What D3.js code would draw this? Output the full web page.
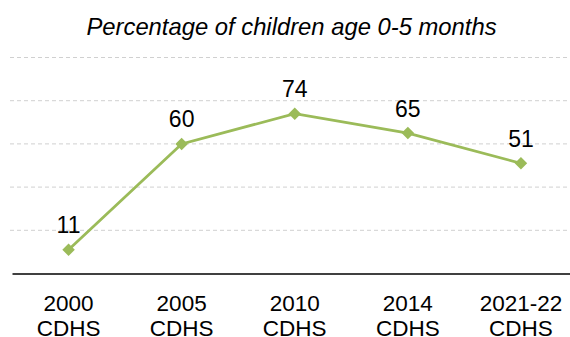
<!DOCTYPE html>
<html>
<head>
<meta charset="utf-8">
<script src="https://cdn.jsdelivr.net/npm/d3@7"></script>
<style>
  body { margin: 0; background: #fff; }
  text { font-family: "Liberation Sans", Arial, sans-serif; fill: #000; }
</style>
</head>
<body>
<div id="chart"></div>
<script>
// survey rounds and values
const years = ["2000", "2005", "2010", "2014", "2021-22"];
const surveys = ["CDHS", "CDHS", "CDHS", "CDHS", "CDHS"];
const values = [11, 60, 74, 65, 51];
const gridTicks = [0, 20, 40, 60, 80, 100];

const width = 570;
const height = 337;
const margin = {left: 12, right: -7.5, top: 57.5, bottom: 63.5};

const svg = d3.select("#chart")
  .append("svg")
  .attr("width", width)
  .attr("height", height);

const xScale = d3.scaleBand()
  .domain(years)
  .range([margin.left, width - margin.right]);

const yScale = d3.scaleLinear()
  .domain([0, 100])
  .range([height - margin.bottom, margin.top]);

// title
svg.append("text")
  .attr("x", 291.5)
  .attr("y", 35)
  .attr("text-anchor", "middle")
  .attr("font-style", "italic")
  .attr("font-size", "23.8px")
  .text("Percentage of children age 0-5 months");

// dashed gridlines
svg.append("g")
  .selectAll("line")
  .data(gridTicks.filter(d => d > 0))
  .enter()
  .append("line")
  .attr("x1", 10)
  .attr("x2", width)
  .attr("y1", d => yScale(d))
  .attr("y2", d => yScale(d))
  .attr("stroke", "#d0d0d0")
  .attr("stroke-width", 1)
  .attr("stroke-dasharray", "4,3");

// x axis
const xAxis = svg.append("g")
  .attr("transform", `translate(0,${yScale(0)})`)
  .call(d3.axisBottom(xScale).tickSize(0).tickFormat(""));
xAxis.select(".domain").attr("stroke", "#000").attr("stroke-width", 1.5);

const labels = svg.append("g")
  .selectAll("text")
  .data(years)
  .enter()
  .append("text")
  .attr("x", d => xScale(d) + xScale.bandwidth() / 2)
  .attr("text-anchor", "middle")
  .attr("font-size", "22.5px");
labels.append("tspan")
  .attr("x", d => xScale(d) + xScale.bandwidth() / 2)
  .attr("y", 311)
  .text(d => d);
labels.append("tspan")
  .attr("x", d => xScale(d) + xScale.bandwidth() / 2)
  .attr("y", 336)
  .text((d, i) => surveys[i]);

const cx = (d, i) => xScale(years[i]) + xScale.bandwidth() / 2;

// line
const line = d3.line()
  .x((d, i) => cx(d, i))
  .y(d => yScale(d));

svg.append("path")
  .datum(values)
  .attr("fill", "none")
  .attr("stroke", "#9BBB59")
  .attr("stroke-width", 2.75)
  .attr("d", line);

// diamond markers
svg.selectAll(".marker")
  .data(values)
  .enter()
  .append("path")
  .attr("class", "marker")
  .attr("d", d3.symbol().type(d3.symbolDiamond2).size(100))
  .attr("transform", (d, i) => `translate(${cx(d, i)},${yScale(d)})`)
  .attr("fill", "#9BBB59");

// value labels
svg.selectAll(".val")
  .data(values)
  .enter()
  .append("text")
  .attr("class", "val")
  .attr("x", (d, i) => cx(d, i))
  .attr("y", d => yScale(d) - 16.5)
  .attr("text-anchor", "middle")
  .attr("font-size", "23px")
  .text(d => d);
</script>
</body>
</html>
